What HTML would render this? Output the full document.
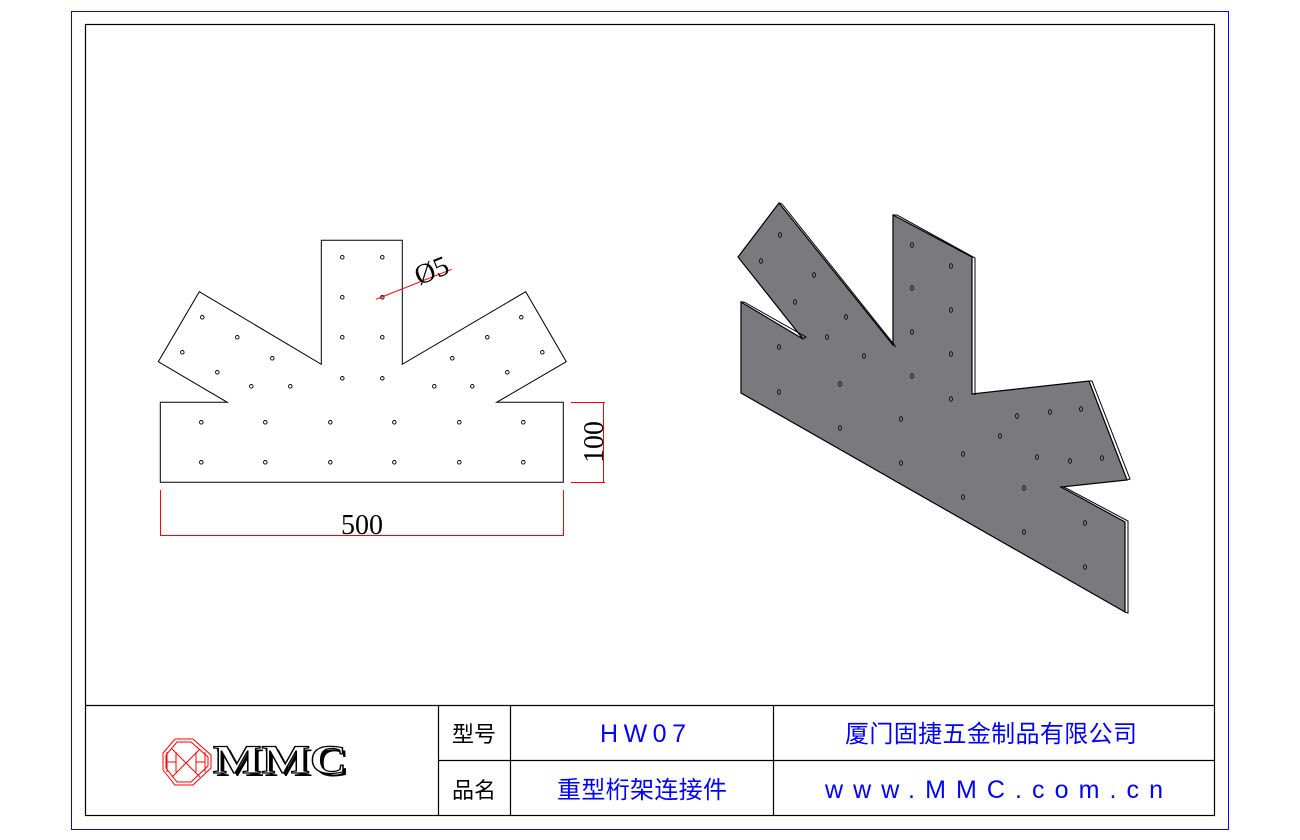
<!DOCTYPE html>
<html><head><meta charset="utf-8"><style>
body{margin:0;background:#fff;}
svg{display:block;}
</style></head><body>
<svg width="1300" height="840" viewBox="0 0 1300 840" xmlns="http://www.w3.org/2000/svg">
<rect x="71.5" y="11.5" width="1157" height="818" fill="none" stroke="#0000ff" stroke-width="1"/>
<rect x="85.5" y="24.5" width="1129" height="791" fill="none" stroke="#000" stroke-width="1.2"/>
<!-- title block -->
<g stroke="#000" stroke-width="1.2">
<line x1="85" y1="705.5" x2="1214" y2="705.5"/>
<line x1="438" y1="760.5" x2="1214" y2="760.5"/>
<line x1="438.5" y1="705" x2="438.5" y2="815"/>
<line x1="510.5" y1="705" x2="510.5" y2="815"/>
<line x1="773.5" y1="705" x2="773.5" y2="815"/>
</g>
<g font-family="'Liberation Sans','Noto Sans CJK SC',sans-serif" text-anchor="middle">
<text x="474" y="742" font-size="22" fill="#000">型号</text>
<text x="474" y="798" font-size="22" fill="#000">品名</text>
<text x="643" y="742" font-size="25" fill="#0000ff" textLength="86" lengthAdjust="spacing">HW07</text>
<text x="991" y="742" font-size="24" fill="#0000ff" textLength="292" lengthAdjust="spacing">厦门固捷五金制品有限公司</text>
<text x="642" y="798" font-size="24" fill="#0000ff" textLength="170" lengthAdjust="spacing">重型桁架连接件</text>
<text x="994" y="798" font-size="25" fill="#0000ff" textLength="338" lengthAdjust="spacing">www.MMC.com.cn</text>
</g>
<!-- logo -->
<g stroke="#ff0000" fill="none" stroke-width="1">
<polygon points="175,739 193,739 211,755 211,768 193,785 175,785 163,770 163,753"/>
<polygon points="177,742 191,742 208,757 208,766 191,782 177,782 166,768 166,755"/>
<line x1="172" y1="749" x2="200" y2="777"/><line x1="200" y1="749" x2="172" y2="777"/>
<line x1="167" y1="752" x2="167" y2="772"/><line x1="167" y1="762" x2="176" y2="762"/><line x1="176" y1="752" x2="176" y2="772"/>
<line x1="196" y1="752" x2="196" y2="772"/><line x1="196" y1="762" x2="205" y2="762"/><line x1="205" y1="752" x2="205" y2="772"/>
</g>
<text x="216" y="776" font-family="'Liberation Serif',serif" font-weight="bold" font-size="40" fill="#000" textLength="134" lengthAdjust="spacingAndGlyphs">MMC</text>
<text x="213" y="773" font-family="'Liberation Serif',serif" font-weight="bold" font-size="40" fill="#fff" stroke="#000" stroke-width="1.2" textLength="134" lengthAdjust="spacingAndGlyphs">MMC</text>
<!-- 2D drawing -->
<polygon points="160.3,402.3 227.3,402.3 158.3,361.7 199.3,291.7 321.3,364.3 321.3,240.3 402.3,240.3 402.3,364.3 525.7,291.7 566.3,361.7 496.7,402.3 563.3,402.3 563.3,482.3 160.3,482.3" fill="none" stroke="#000" stroke-width="1"/>
<g fill="none" stroke="#000" stroke-width="0.9">
<circle cx="342.3" cy="257.3" r="1.8"/><circle cx="382.3" cy="257.3" r="1.8"/>
<circle cx="342.3" cy="297.3" r="1.8"/><circle cx="382.3" cy="297.3" r="1.8"/>
<circle cx="342.3" cy="337.3" r="1.8"/><circle cx="382.3" cy="337.3" r="1.8"/>
<circle cx="342.3" cy="378.3" r="1.8"/><circle cx="382.3" cy="378.3" r="1.8"/>
<circle cx="202.3" cy="317.3" r="1.8"/><circle cx="237.3" cy="337.3" r="1.8"/><circle cx="182.3" cy="352.3" r="1.8"/><circle cx="272.3" cy="358.3" r="1.8"/><circle cx="217.3" cy="372.3" r="1.8"/><circle cx="251.3" cy="386.3" r="1.8"/><circle cx="290.3" cy="386.3" r="1.8"/>
<circle cx="521.3" cy="317.3" r="1.8"/><circle cx="487.3" cy="337.3" r="1.8"/><circle cx="542.3" cy="352.3" r="1.8"/><circle cx="452.3" cy="358.3" r="1.8"/><circle cx="507.3" cy="372.3" r="1.8"/><circle cx="434.3" cy="386.3" r="1.8"/><circle cx="472.3" cy="386.3" r="1.8"/>
<circle cx="201.3" cy="422.3" r="1.8"/><circle cx="265.3" cy="422.3" r="1.8"/><circle cx="330.3" cy="422.3" r="1.8"/><circle cx="394.3" cy="422.3" r="1.8"/><circle cx="459.3" cy="422.3" r="1.8"/><circle cx="523.3" cy="422.3" r="1.8"/>
<circle cx="201.3" cy="462.3" r="1.8"/><circle cx="265.3" cy="462.3" r="1.8"/><circle cx="330.3" cy="462.3" r="1.8"/><circle cx="394.3" cy="462.3" r="1.8"/><circle cx="459.3" cy="462.3" r="1.8"/><circle cx="523.3" cy="462.3" r="1.8"/>
</g>
<!-- dims -->
<g stroke="#ff0000" stroke-width="1">
<line x1="160.5" y1="490" x2="160.5" y2="536"/><line x1="563.5" y1="490" x2="563.5" y2="536"/>
<line x1="160" y1="535.5" x2="563" y2="535.5"/>
<line x1="571" y1="402.5" x2="605" y2="402.5"/><line x1="571" y1="482.5" x2="605" y2="482.5"/>
<line x1="603.5" y1="402" x2="603.5" y2="483"/>
<line x1="376" y1="299.3" x2="451.7" y2="269.3"/>
</g>
<g font-family="'Liberation Serif',serif" fill="#000">
<text x="362" y="534" font-size="28" text-anchor="middle">500</text>
<text transform="translate(603,442) rotate(-90)" font-size="28" text-anchor="middle">100</text>
<text transform="translate(435,279) rotate(-22)" font-size="28" text-anchor="middle">Ø5</text>
</g>
<!-- 3D view -->
<polygon points="779,203 893,345 893,215 972,257 972,394 1089,381 1127,480 1061,487 1125,522 1125,612 741,393 741,302 803,339 738,257" fill="#7a797e" stroke="#000" stroke-width="1.2"/>
<g stroke="#000" stroke-width="1" fill="none">
<polyline points="779,203 782,204 896,347"/>
<polyline points="893,215 897,215 975,258 975,395"/>
<polyline points="1089,381 1092,381 1130,479 1127,480"/>
<polyline points="1061,487 1064,487 1128,521 1128,613 1125,612"/>
<polyline points="741,302 744,302 806,337 803,339"/>
</g>
<g fill="none" stroke="#000" stroke-width="0.8">
<ellipse cx="780" cy="235" rx="1.5" ry="2.3"/><ellipse cx="761" cy="261" rx="1.5" ry="2.3"/><ellipse cx="814" cy="275" rx="1.5" ry="2.3"/><ellipse cx="795" cy="302" rx="1.5" ry="2.3"/><ellipse cx="846" cy="317" rx="1.5" ry="2.3"/><ellipse cx="827" cy="337" rx="1.5" ry="2.3"/><ellipse cx="864" cy="356" rx="1.5" ry="2.3"/>
<ellipse cx="912" cy="245" rx="1.5" ry="2.3"/><ellipse cx="951" cy="266" rx="1.5" ry="2.3"/><ellipse cx="912" cy="288" rx="1.5" ry="2.3"/><ellipse cx="951" cy="310" rx="1.5" ry="2.3"/><ellipse cx="912" cy="332" rx="1.5" ry="2.3"/><ellipse cx="951" cy="354" rx="1.5" ry="2.3"/><ellipse cx="912" cy="376" rx="1.5" ry="2.3"/><ellipse cx="951" cy="399" rx="1.5" ry="2.3"/>
<ellipse cx="779" cy="347" rx="1.5" ry="2.3"/><ellipse cx="779" cy="392" rx="1.5" ry="2.3"/><ellipse cx="840" cy="384" rx="1.5" ry="2.3"/><ellipse cx="840" cy="428" rx="1.5" ry="2.3"/><ellipse cx="901" cy="419" rx="1.5" ry="2.3"/><ellipse cx="901" cy="463" rx="1.5" ry="2.3"/><ellipse cx="963" cy="454" rx="1.5" ry="2.3"/><ellipse cx="963" cy="497" rx="1.5" ry="2.3"/><ellipse cx="1024" cy="488" rx="1.5" ry="2.3"/><ellipse cx="1024" cy="532" rx="1.5" ry="2.3"/><ellipse cx="1085" cy="523" rx="1.5" ry="2.3"/><ellipse cx="1085" cy="567" rx="1.5" ry="2.3"/>
<ellipse cx="1017" cy="416" rx="1.5" ry="2.3"/><ellipse cx="1050" cy="412" rx="1.5" ry="2.3"/><ellipse cx="1081" cy="409" rx="1.5" ry="2.3"/><ellipse cx="1000" cy="436" rx="1.5" ry="2.3"/><ellipse cx="1037" cy="457" rx="1.5" ry="2.3"/><ellipse cx="1070" cy="461" rx="1.5" ry="2.3"/><ellipse cx="1102" cy="458" rx="1.5" ry="2.3"/>
</g>
</svg>
</body></html>
